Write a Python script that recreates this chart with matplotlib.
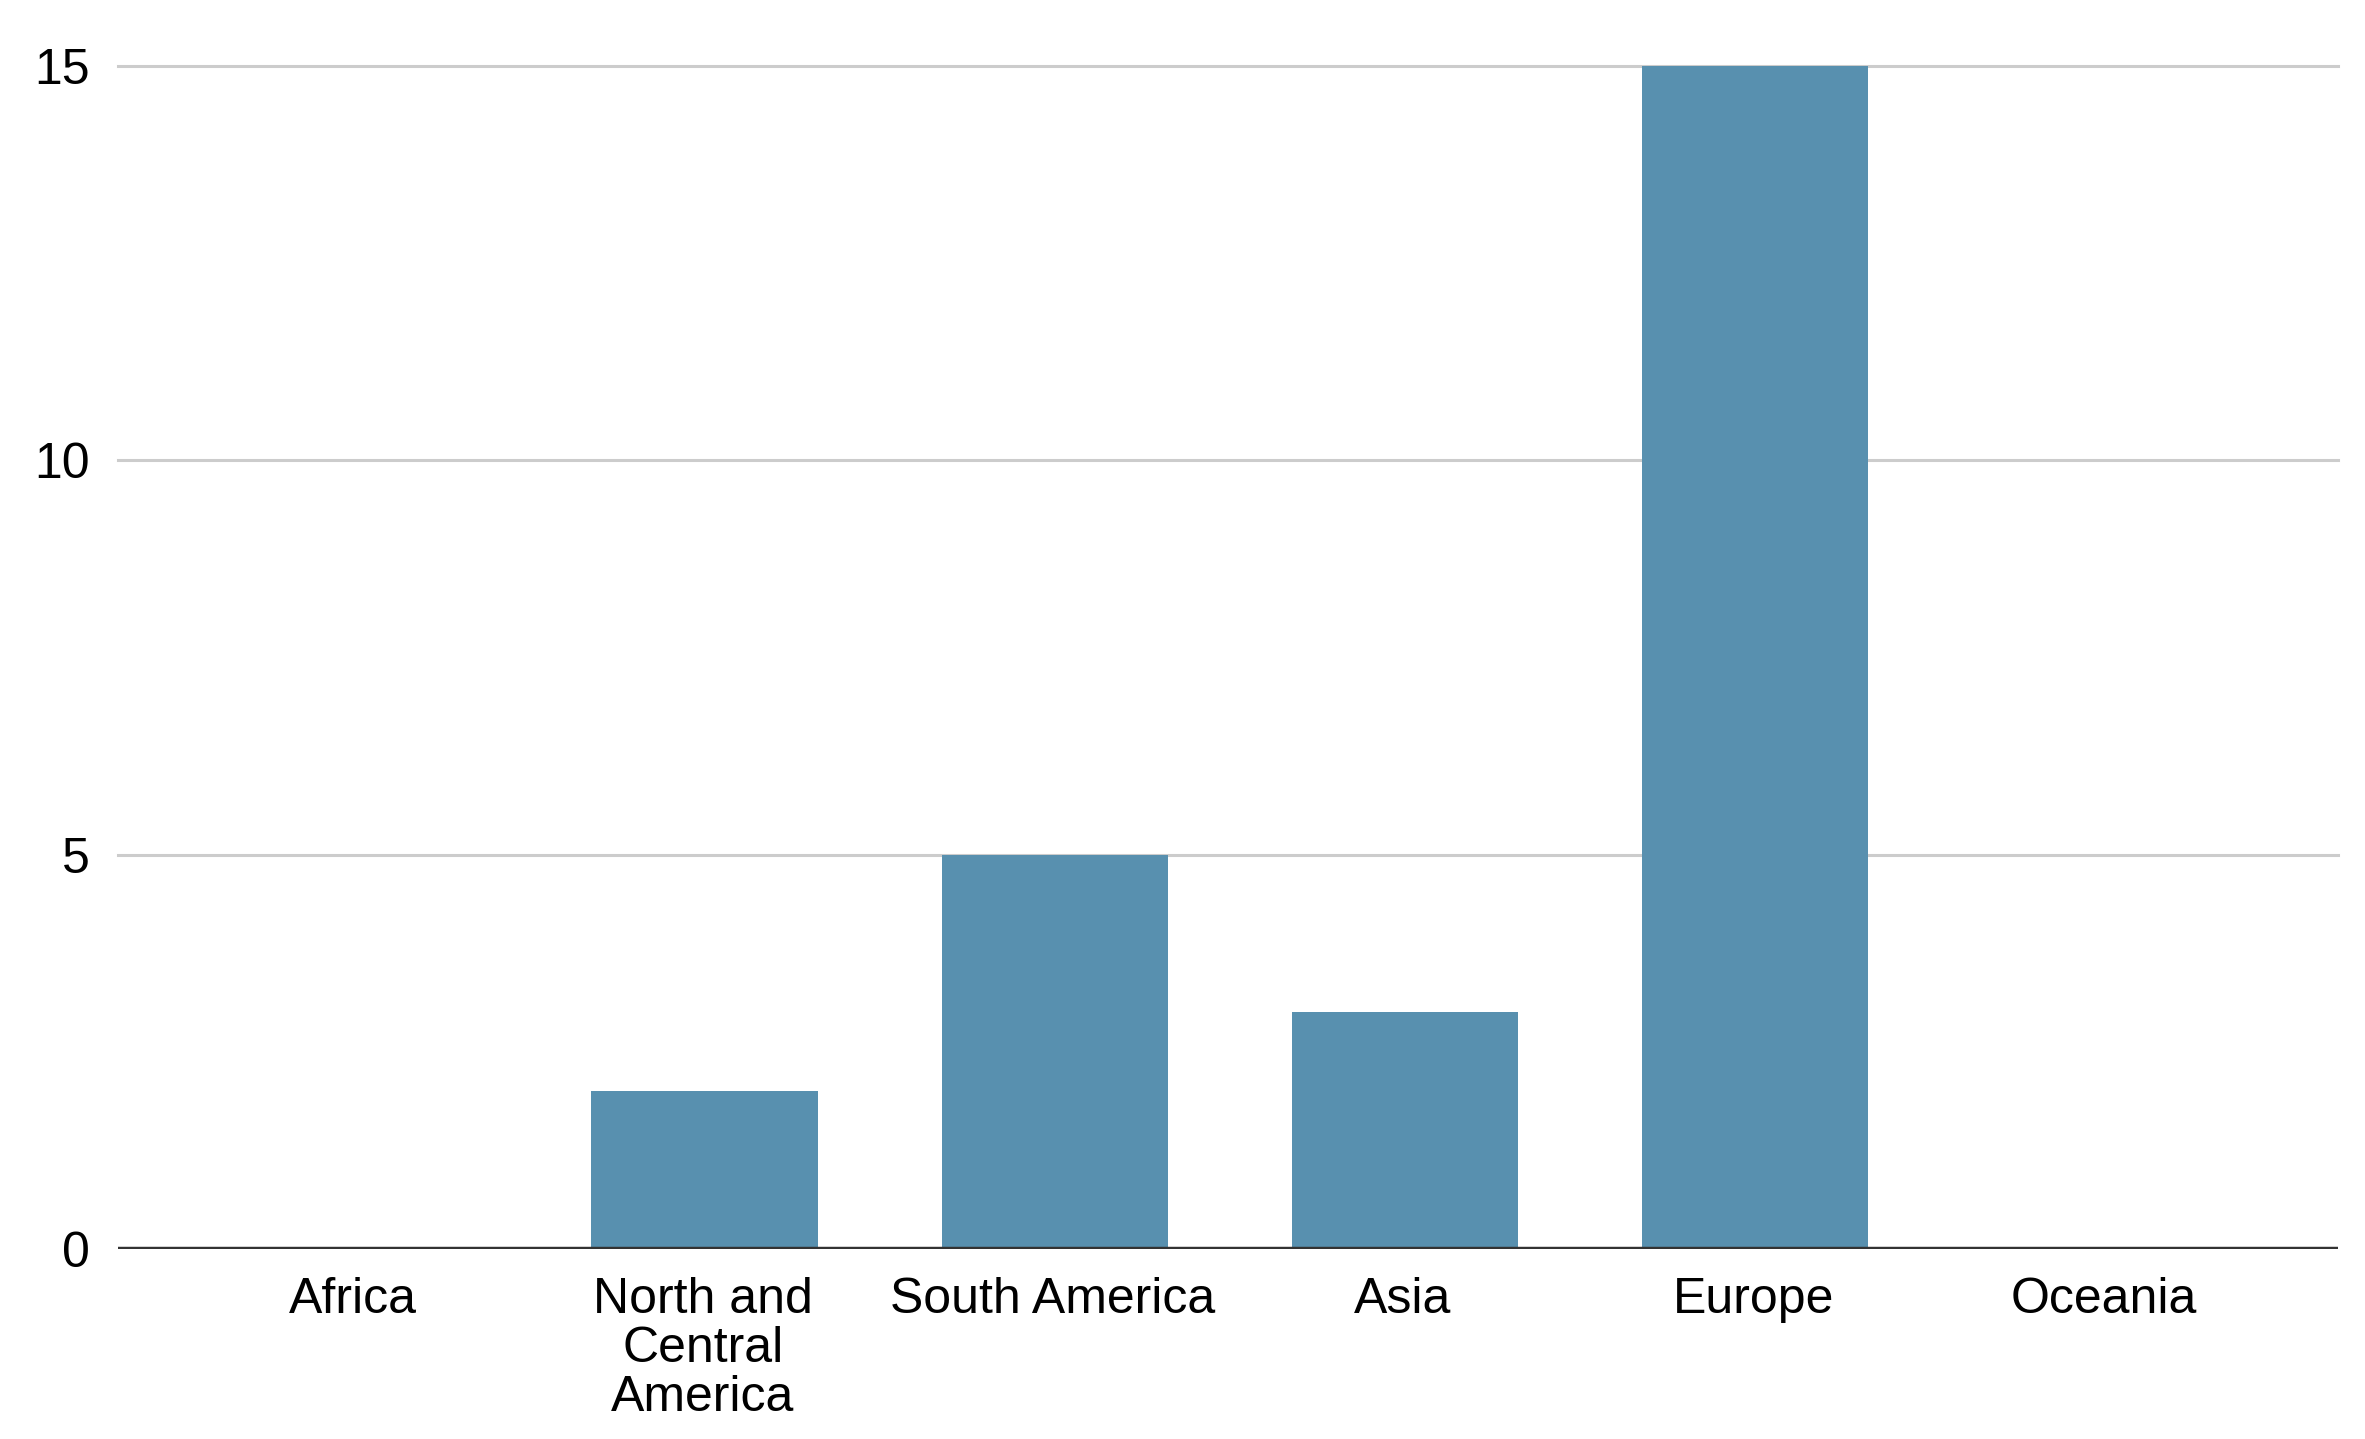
import matplotlib.pyplot as plt

# Data
regions = ["Africa", "North and\nCentral\nAmerica", "South America", "Asia", "Europe", "Oceania"]
counts = [0, 2, 5, 3, 15, 0]
yticks = [0, 5, 10, 15]

plt.rcParams['font.family'] = ['Liberation Sans', 'DejaVu Sans']

fig = plt.figure(figsize=(23.65, 14.39), dpi=100)
ax = fig.add_axes([118 / 2365, 1 - 1249 / 1439, (2338 - 118) / 2365, (1249 - 66) / 1439])

x = list(range(len(regions)))
ax.bar([i + 0.005 for i in x], counts, width=0.646, color="#5890af", zorder=2)

ax.set_xlim(-0.67, len(regions) - 0.33)
ax.set_ylim(0, 15)
ax.set_yticks(yticks)
ax.set_xticks(x)
ax.set_xticklabels(regions, fontsize=36, linespacing=1.08, va="top")
ax.tick_params(axis="y", length=0, pad=20, labelsize=36)
ax.tick_params(axis="x", length=0, pad=20)

for v in yticks[1:]:
    ax.axhline(v, color="#cccccc", linewidth=2.2, zorder=1, clip_on=False)
ax.axhline(0, color="#333333", linewidth=3.2, zorder=3)

for s in ax.spines.values():
    s.set_visible(False)

fig.savefig("out.png", dpi=100, facecolor="white")
